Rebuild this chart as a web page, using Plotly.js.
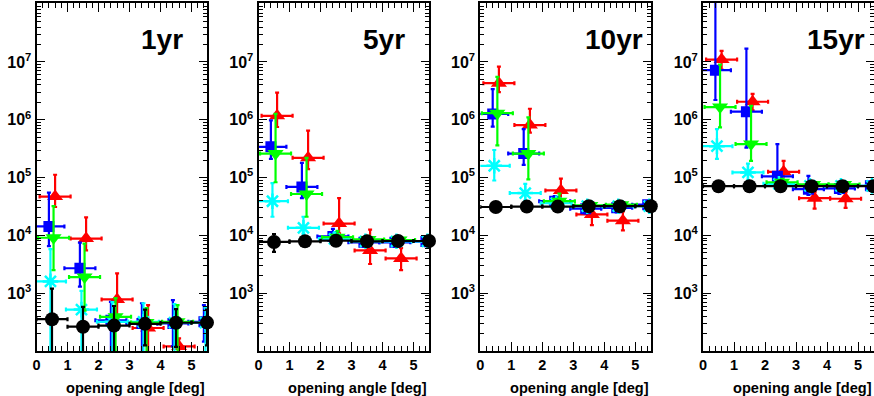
<!DOCTYPE html>
<html>
<head>
<meta charset="utf-8">
<script src="https://cdn.plot.ly/plotly-3.0.1.min.js"></script>
<style>
html,body{margin:0;padding:0;background:#fff;}
#chart{width:874px;height:396px;}
</style>
</head>
<body>
<div id="chart"></div>
<script>
// ---------------- data ----------------
const panelNames = ['1yr', '5yr', '10yr', '15yr'];
const xTitle = 'opening angle [deg]';
const xTickVals = [0, 1, 2, 3, 4, 5];
const yTickVals = [1e3, 1e4, 1e5, 1e6, 1e7];
const yTickText = ['10<sup>3</sup>', '10<sup>4</sup>', '10<sup>5</sup>', '10<sup>6</sup>', '10<sup>7</sup>'];
const xHalfWidth = 0.5;

const xRed   = [0.6, 1.6, 2.6, 3.6, 4.6];
const xBlue  = [0.4, 1.4, 2.4, 3.4, 4.4, 5.4];
const xCyan  = [0.45, 1.45, 2.45, 3.45, 4.45, 5.45];
const xGreen = [0.55, 1.55, 2.55, 3.55, 4.55];
const xBlack = [0.5, 1.5, 2.5, 3.5, 4.5, 5.5];

// values, upper and lower error-bar ends, one row per panel (1yr, 5yr, 10yr, 15yr)
const redVal = [
  [4.7e4, 8.8e3, 780, 250, 120],
  [1.17e6, 2.2e5, 1.6e4, 5.5e3, 4.0e3],
  [4.3e6, 8.1e5, 6.0e4, 2.3e4, 1.8e4],
  [1.1e7, 2.05e6, 1.26e5, 4.4e4, 4.3e4]];
const redHi = [
  [1.12e5, 2.05e4, 2.2e3, 620, 165],
  [2.95e6, 6.5e5, 4.4e4, 1.26e4, 6.0e3],
  [8.3e6, 1.55e6, 9.6e4, 3.2e4, 2.6e4],
  [1.55e7, 2.8e6, 1.95e5, 5.6e4, 5.6e4]];
const redLo = [
  [3.1e4, 5.5e3, 250, 10, 10],
  [7.5e5, 1.4e5, 1.08e4, 3.2e3, 2.5e3],
  [3.0e6, 6.0e5, 4.0e4, 1.5e4, 1.22e4],
  [7.4e6, 1.45e6, 8.3e4, 2.9e4, 3.0e4]];

const blueVal = [
  [1.43e4, 2.7e3, 340, 300, 300, 320],
  [3.4e5, 6.9e4, 9.6e3, 7.6e3, 7.6e3, 7.8e3],
  [1.26e6, 2.6e5, 3.9e4, 2.9e4, 3.0e4, 3.4e4],
  [7.2e6, 1.38e6, 1.05e5, 6.3e4, 6.5e4, 7.2e4]];
const blueHi = [
  [5.5e4, 7.5e3, 710, 670, 760, 620],
  [9.8e5, 1.8e5, 1.3e4, 9.2e3, 9.2e3, 9.2e3],
  [3.4e6, 6.9e5, 4.8e4, 3.6e4, 3.7e4, 3.9e4],
  [2e8, 1.7e7, 3.8e5, 1.07e5, 8.5e4, 8.2e4]];
const blueLo = [
  [6.5e3, 1.3e3, 10, 10, 120, 145],
  [2.1e5, 4.4e4, 7.3e3, 6.3e3, 6.3e3, 6.5e3],
  [7.6e5, 1.66e5, 3.2e4, 2.4e4, 2.5e4, 2.9e4],
  [2.2e6, 3.3e5, 7.2e4, 5.0e4, 5.2e4, 6.2e4]];

const cyanVal = [
  [1.6e3, 520, 320, 320, 310, 310],
  [3.9e4, 1.35e4, 8.7e3, 7.9e3, 7.9e3, 7.9e3],
  [1.6e5, 5.4e4, 3.6e4, 3.2e4, 3.2e4, 3.2e4],
  [3.5e5, 1.23e5, 7.8e4, 7.2e4, 7.2e4, 7.2e4]];
const cyanHi = [
  [5.8e3, 1.1e3, 700, 670, 650, 560],
  [8e4, 2.1e4, 1.1e4, 9e3, 9e3, 9e3],
  [3e5, 7.8e4, 4.2e4, 3.6e4, 3.6e4, 3.6e4],
  [6.9e5, 1.74e5, 8.6e4, 7.8e4, 7.8e4, 7.8e4]];
const cyanLo = [
  [10, 10, 10, 10, 10, 10],
  [2.1e4, 1.07e4, 7e3, 6.8e3, 6.8e3, 6.8e3],
  [8.9e4, 4e4, 3.1e4, 2.8e4, 2.8e4, 2.8e4],
  [2.1e5, 8.9e4, 7.0e4, 6.6e4, 6.6e4, 6.6e4]];

const greenVal = [
  [9.1e3, 1.9e3, 390, 310, 320],
  [2.6e5, 5.2e4, 9.3e3, 8.5e3, 8.3e3],
  [1.3e6, 2.6e5, 3.9e4, 3.3e4, 3.4e4],
  [1.66e6, 3.8e5, 8.3e4, 7.6e4, 7.6e4]];
const greenHi = [
  [3.2e4, 7.2e3, 820, 550, 620],
  [1.26e6, 2.2e5, 1.2e4, 9.8e3, 9.5e3],
  [5.5e6, 1.1e6, 5.3e4, 3.8e4, 3.9e4],
  [9e6, 1.74e6, 9.5e4, 8.5e4, 8.5e4]];
const greenLo = [
  [2.5e3, 500, 10, 10, 10],
  [8.3e4, 2.1e4, 7.3e3, 7.2e3, 7.2e3],
  [3.6e5, 9.3e4, 3.3e4, 2.9e4, 3.0e4],
  [7.4e5, 1.95e5, 7.2e4, 6.8e4, 6.8e4]];

const blackVal = [
  [355, 263, 275, 295, 308, 310],
  [7.7e3, 7.9e3, 8.1e3, 7.9e3, 8.0e3, 8.0e3],
  [3.1e4, 3.15e4, 3.15e4, 3.2e4, 3.2e4, 3.2e4],
  [7.1e4, 7.1e4, 7.1e4, 7.1e4, 7.1e4, 7.1e4]];
const blackHi = [
  [1.2e3, 580, 600, 520, 530, 520],
  [1.05e4, 8.5e3, 8.6e3, 8.4e3, 8.5e3, 8.5e3],
  [3.3e4, 3.3e4, 3.3e4, 3.35e4, 3.35e4, 3.35e4],
  [7.4e4, 7.4e4, 7.4e4, 7.4e4, 7.4e4, 7.4e4]];
const blackLo = [
  [10, 10, 10, 125, 118, 125],
  [5.2e3, 7.3e3, 7.6e3, 7.4e3, 7.5e3, 7.5e3],
  [2.95e4, 3.0e4, 3.0e4, 3.05e4, 3.05e4, 3.05e4],
  [6.8e4, 6.8e4, 6.8e4, 6.8e4, 6.8e4, 6.8e4]];

// ---------------- styling / layout ----------------
const W = 874, H = 396;
const panelLeft = [36.5, 258.5, 480.3, 703.0];
const panelWidth = 170.5;
const plotTop = 3, plotBottom = 351;
const FONT = 'Liberation Sans, Arial, Helvetica, sans-serif';

const seriesDefs = [
  {x: xRed,   v: redVal,   hi: redHi,   lo: redLo,   color: '#ff0000', symbol: 'triangle-up',   size: 14, clip: true},
  {x: xBlue,  v: blueVal,  hi: blueHi,  lo: blueLo,  color: '#0000ff', symbol: 'square',        size: 11, clip: true},
  {x: xCyan,  v: cyanVal,  hi: cyanHi,  lo: cyanLo,  color: '#00ffff', symbol: 'asterisk-open', size: 13, clip: true},
  {x: xGreen, v: greenVal, hi: greenHi, lo: greenLo, color: '#00ff00', symbol: 'triangle-down', size: 14, clip: true},
  {x: xBlack, v: blackVal, hi: blackHi, lo: blackLo, color: '#000000', symbol: 'circle',        size: 14, clip: false}
];

const traces = [];
const layout = {
  width: W, height: H,
  margin: {l: 0, r: 0, t: 0, b: 0},
  paper_bgcolor: '#ffffff',
  plot_bgcolor: '#ffffff',
  showlegend: false,
  font: {family: FONT, color: '#000'},
  annotations: []
};

const minorY = [];
for (let e = 2; e <= 7; e++) for (let k = 2; k <= 9; k++) minorY.push(k * Math.pow(10, e));

panelNames.forEach((name, p) => {
  const sfx = p === 0 ? '' : String(p + 1);
  const xa = 'x' + sfx, ya = 'y' + sfx;
  seriesDefs.forEach(s => {
    const vals = s.v[p];
    const n = vals.length;
    traces.push({
      type: 'scatter', mode: 'markers',
      xaxis: xa, yaxis: ya,
      x: s.x.slice(0, n), y: vals,
      cliponaxis: s.clip,
      marker: {color: s.color, symbol: s.symbol, size: s.size,
               line: {color: s.color, width: s.symbol === 'asterisk-open' ? 2.5 : 0}},
      error_x: {type: 'constant', value: xHalfWidth, color: s.color, thickness: 2.2, width: 2},
      error_y: {type: 'data', symmetric: false,
                array: vals.map((v, i) => s.hi[p][i] - v),
                arrayminus: vals.map((v, i) => v - s.lo[p][i]),
                color: s.color, thickness: 2.2, width: 2},
      hoverinfo: 'skip'
    });
  });

  const d0 = panelLeft[p] / W, d1 = (panelLeft[p] + panelWidth) / W;
  layout['xaxis' + sfx] = {
    domain: [d0, d1], anchor: ya, range: [0, 5.5],
    tickmode: 'array', tickvals: xTickVals,
    ticks: 'inside', ticklen: 9, tickwidth: 1, tickcolor: '#000',
    minor: {dtick: 0.2, tick0: 0, ticks: 'inside', ticklen: 5, tickwidth: 1, tickcolor: '#000'},
    showline: true, linewidth: 2, linecolor: '#000', mirror: 'allticks',
    showgrid: false, zeroline: false,
    tickfont: {family: FONT, size: 14.5, weight: 700, color: '#000'}
  };
  layout['yaxis' + sfx] = {
    domain: [(H - plotBottom) / H, (H - plotTop) / H], anchor: xa,
    type: 'log', range: [2, 8.02],
    tickmode: 'array', tickvals: yTickVals, ticktext: yTickText,
    ticks: 'inside', ticklen: 8, tickwidth: 1, tickcolor: '#000',
    minor: {tickmode: 'array', tickvals: minorY, ticks: 'inside', ticklen: 4, tickwidth: 1, tickcolor: '#000'},
    showline: true, linewidth: 2, linecolor: '#000', mirror: 'allticks',
    showgrid: false, zeroline: false,
    tickfont: {family: FONT, size: 16, weight: 700, color: '#000'}
  };
  layout.annotations.push({
    text: name, xref: xa + ' domain', yref: ya + ' domain',
    x: 0.60, y: 0.894, xanchor: 'left', yanchor: 'middle', showarrow: false,
    font: {family: FONT, size: 28, weight: 700, color: '#000'}
  });
  layout.annotations.push({
    text: xTitle, xref: xa + ' domain', yref: 'paper',
    x: 1.0, y: (H - 388) / H, xanchor: 'right', yanchor: 'middle', showarrow: false,
    font: {family: FONT, size: 14.6, weight: 700, color: '#000'}
  });
});

Plotly.newPlot('chart', traces, layout, {displayModeBar: false, staticPlot: true});
</script>
</body>
</html>
